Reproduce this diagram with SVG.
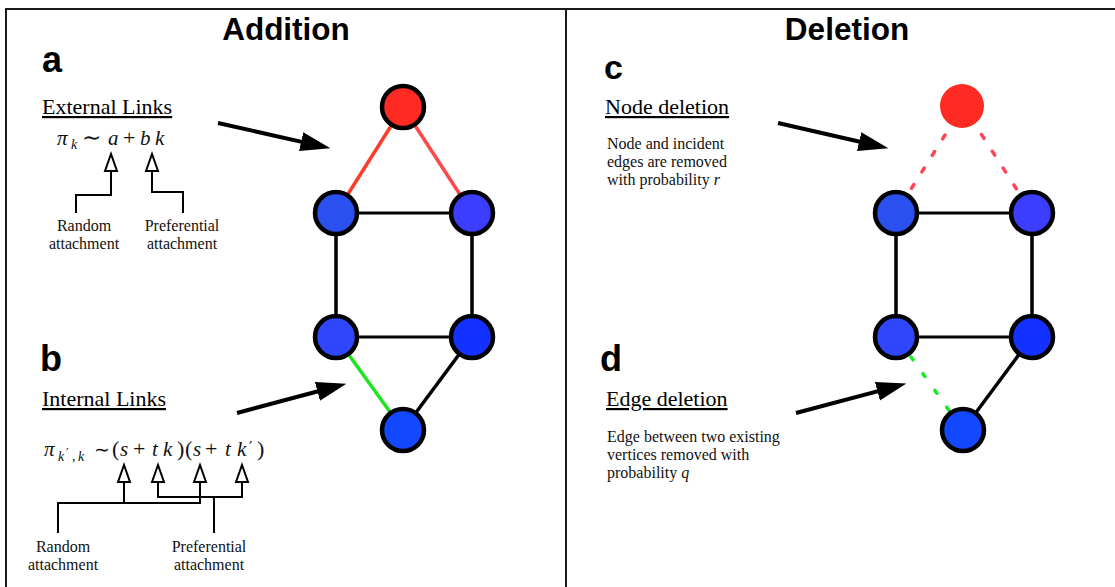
<svg xmlns="http://www.w3.org/2000/svg" width="1115" height="587" viewBox="0 0 1115 587">
<style>
.frame{stroke:#1a1a1a;stroke-width:2;fill:none}
.title{font-family:"Liberation Sans",Arial,sans-serif;font-weight:bold;font-size:31.5px;fill:#000;text-anchor:middle}
.lab{font-family:"Liberation Sans",Arial,sans-serif;font-weight:bold;font-size:36px;fill:#000}
.head{font-family:"Liberation Serif","Times New Roman",serif;font-size:22px;fill:#000;text-decoration:underline}
.txt{font-family:"Liberation Serif","Times New Roman",serif;font-size:16px;fill:#111}
.ctr{text-anchor:middle}
.m{font-family:"Liberation Serif","Times New Roman",serif;font-style:italic;font-size:21px;fill:#111}
.up{font-style:normal;font-size:22px}
.sym{font-family:"DejaVu Sans",sans-serif;font-style:normal}
.sub{font-size:14px}
.node{stroke:#000;stroke-width:4.5}
.edge{stroke:#000;stroke-width:3.5;fill:none}
.arrow{stroke:#000;stroke-width:4;fill:none;marker-end:url(#ah)}
.ptr{stroke:#000;stroke-width:2;fill:none}
.dash{stroke-width:3.5;stroke-linecap:round;fill:none}
</style>
<defs>
<marker id="ah" markerUnits="userSpaceOnUse" markerWidth="30" markerHeight="22" viewBox="0 0 28 20" refX="8" refY="10" orient="auto">
<path d="M0,1 L28,10 L0,19 z" fill="#000"/>
</marker>
<marker id="ot" markerUnits="userSpaceOnUse" markerWidth="22" markerHeight="16" viewBox="-2 -8 22 16" refX="0" refY="0" orient="auto-start-reverse">
<path d="M0,-6 L17,0 L0,6 z" fill="#fff" stroke="#000" stroke-width="2"/>
</marker>
</defs>
<rect width="1115" height="587" fill="#fff"/>
<g id="frame">
<path class="frame" d="M6,587 V9 H1115 M566,9 V587"/>
</g>
<g id="titles">
<text class="title" x="286" y="40">Addition</text>
<text class="title" x="847" y="40">Deletion</text>
<text class="lab" x="42" y="72">a</text>
<text class="lab" x="40" y="371">b</text>
<text class="lab" x="604" y="79" style="font-size:34px">c</text>
<text class="lab" x="600" y="371">d</text>
</g>
<g id="panel-a">
<text class="head" x="42" y="114">External Links</text>
<text class="m" y="145"><tspan x="57">π</tspan><tspan x="71" y="149" class="sub">k</tspan><tspan x="82" y="145" class="sym" style="font-size:23px">∼</tspan><tspan x="108">a</tspan><tspan x="123" class="up">+</tspan><tspan x="140">b</tspan><tspan x="155">k</tspan></text>
<path class="ptr" d="M76,213 V195 H111 V171" marker-end="url(#ot)"/>
<path class="ptr" d="M183,213 V192 H152 V171" marker-end="url(#ot)"/>
<text class="txt ctr" x="84" y="231">Random</text>
<text class="txt ctr" x="84" y="249">attachment</text>
<text class="txt ctr" x="182" y="231">Preferential</text>
<text class="txt ctr" x="182" y="249">attachment</text>
</g>
<g id="panel-b">
<text class="head" x="42" y="406">Internal Links</text>
<text class="m" y="456"><tspan x="44">π</tspan><tspan x="58" y="461" class="sub">k</tspan><tspan x="66" y="457" class="sym" style="font-size:12px">′</tspan><tspan x="72" y="461" class="sub">,</tspan><tspan x="78" class="sub">k</tspan><tspan x="94" y="456" class="sym" style="font-size:19px">∼</tspan><tspan x="112" class="up">(</tspan><tspan x="120">s</tspan><tspan x="133" class="up">+</tspan><tspan x="152">t</tspan><tspan x="163">k</tspan><tspan x="177" class="up">)</tspan><tspan x="185" class="up">(</tspan><tspan x="193">s</tspan><tspan x="205" class="up">+</tspan><tspan x="225">t</tspan><tspan x="237">k</tspan><tspan x="249" y="453" class="sym" style="font-size:15px">′</tspan><tspan x="257" y="456" class="up">)</tspan></text>
<path class="ptr" d="M58,533 V503 H200 V482" marker-end="url(#ot)"/>
<path class="ptr" d="M124,503 V482" marker-end="url(#ot)"/>
<path class="ptr" d="M158,482 V497 H242 V482" marker-start="url(#ot)" marker-end="url(#ot)"/>
<path class="ptr" d="M214,533 V497"/>
<text class="txt ctr" x="63" y="552">Random</text>
<text class="txt ctr" x="63" y="570">attachment</text>
<text class="txt ctr" x="209" y="552">Preferential</text>
<text class="txt ctr" x="209" y="570">attachment</text>
</g>
<g id="panel-c">
<text class="head" x="605" y="114">Node deletion</text>
<text class="txt" x="607" y="149">Node and incident</text>
<text class="txt" x="607" y="167">edges are removed</text>
<text class="txt" x="607" y="185">with probability <tspan font-style="italic">r</tspan></text>
</g>
<g id="panel-d">
<text class="head" x="606" y="406">Edge deletion</text>
<text class="txt" x="607" y="442">Edge between two existing</text>
<text class="txt" x="607" y="460">vertices removed with</text>
<text class="txt" x="607" y="478">probability <tspan font-style="italic">q</tspan></text>
</g>
<g id="connectors">
<path class="arrow" d="M218,123 L309.5,143.6"/>
<path class="arrow" d="M237,413 L325.7,389.2"/>
<path class="arrow" d="M778,123 L867.5,143.5"/>
<path class="arrow" d="M796,413 L885.7,389.1"/>
<line x1="403" y1="107" x2="336" y2="213" stroke="#ff3b2c" stroke-width="3.5"/>
<line x1="403" y1="107" x2="472" y2="213" stroke="#ff4848" stroke-width="3.5"/>
<line class="edge" x1="336" y1="213" x2="472" y2="213" style="stroke-width:3"/>
<line class="edge" x1="336" y1="213" x2="336" y2="337"/>
<line class="edge" x1="472" y1="213" x2="472" y2="337"/>
<line class="edge" x1="336" y1="337" x2="472" y2="337" style="stroke-width:3"/>
<line x1="336" y1="337" x2="403" y2="430" stroke="#1ee61e" stroke-width="3.5"/>
<line class="edge" x1="472" y1="337" x2="403" y2="430"/>
<line class="dash" x1="945" y1="135" x2="896" y2="213" stroke="#ff4455" stroke-dasharray="4.5 15"/>
<line class="dash" x1="981.5" y1="134.5" x2="1032" y2="213" stroke="#ff4455" stroke-dasharray="4.5 15.5"/>
<line class="edge" x1="896" y1="213" x2="1032" y2="213" style="stroke-width:3"/>
<line class="edge" x1="896" y1="213" x2="896" y2="337"/>
<line class="edge" x1="1032" y1="213" x2="1032" y2="337"/>
<line class="edge" x1="896" y1="337" x2="1032" y2="337" style="stroke-width:3"/>
<line class="dash" x1="911" y1="357" x2="963" y2="430" stroke="#11ee22" stroke-dasharray="3.5 17"/>
<line class="edge" x1="1032" y1="337" x2="963" y2="430"/>
</g>
<g id="add-top"><circle class="node" cx="403" cy="107" r="21" fill="#ff2a22"/></g>
<g id="add-ml"><circle class="node" cx="336" cy="213" r="21" fill="#2b50f0"/></g>
<g id="add-mr"><circle class="node" cx="472" cy="213" r="21" fill="#3d3dff"/></g>
<g id="add-ll"><circle class="node" cx="336" cy="337" r="21" fill="#3046fa"/></g>
<g id="add-lr"><circle class="node" cx="472" cy="337" r="21" fill="#1432ff"/></g>
<g id="add-bot"><circle class="node" cx="403" cy="430" r="21" fill="#1248ff"/></g>
<g id="del-top"><circle cx="962" cy="106" r="22" fill="#ff2a22"/></g>
<g id="del-ml"><circle class="node" cx="896" cy="213" r="21" fill="#2b50f0"/></g>
<g id="del-mr"><circle class="node" cx="1032" cy="213" r="21" fill="#3d3dff"/></g>
<g id="del-ll"><circle class="node" cx="896" cy="337" r="21" fill="#3046fa"/></g>
<g id="del-lr"><circle class="node" cx="1032" cy="337" r="21" fill="#1432ff"/></g>
<g id="del-bot"><circle class="node" cx="963" cy="430" r="21" fill="#1248ff"/></g>
</svg>
